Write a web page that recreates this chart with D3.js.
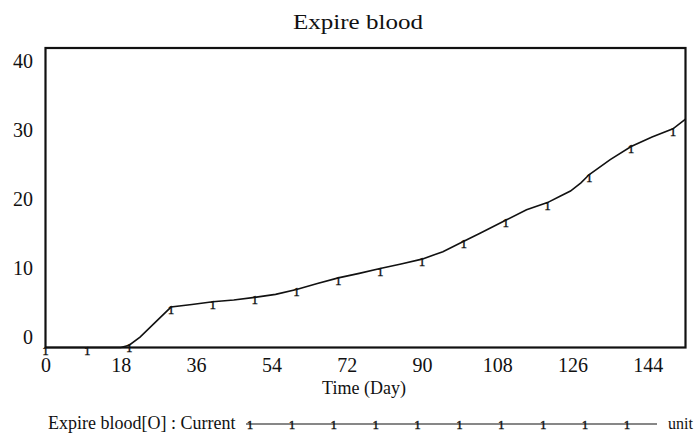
<!DOCTYPE html>
<html>
<head>
<meta charset="utf-8">
<script src="https://cdn.jsdelivr.net/npm/d3@7"></script>
<style>
  html, body { margin: 0; padding: 0; background: #fff; }
  svg { display: block; }
  text { font-family: "Liberation Serif", "DejaVu Serif", serif; fill: #111; }
</style>
</head>
<body>
<svg id="chart" width="694" height="440"></svg>
<script>
// ---- data ----
const chartTitle = "Expire blood";
const xTitle = "Time (Day)";
const seriesName = "Expire blood[O] : Current";
const unitLabel = "unit";
const markerLabel = "1";
const days = [0, 10, 18, 20, 22.6, 30, 35, 40, 45, 50, 55, 60, 65, 70, 75, 80, 85, 90, 95, 100, 104, 110, 115, 120, 123, 125.5, 128, 130, 132, 135, 140, 145, 150, 153];
const values = [0, 0, 0, 0.3, 1.4, 5.4, 5.75, 6.1, 6.35, 6.7, 7.1, 7.75, 8.55, 9.3, 9.9, 10.55, 11.15, 11.8, 12.8, 14.2, 15.3, 17.0, 18.4, 19.35, 20.2, 20.9, 22.0, 23.1, 23.9, 25.1, 26.85, 28.1, 29.2, 30.5];
const xTicks = [0, 18, 36, 54, 72, 90, 108, 126, 144];
const yTicks = [0, 10, 20, 30, 40];
const markerEvery = 10;
const legendMarkers = 10;

// ---- layout ----
const svg = d3.select("#chart");
const L = 45.5, R = 685.5, T = 48, B = 347.5;

const x = d3.scaleLinear().domain([0, 153]).range([L, R]);
const y = d3.scaleLinear().domain([0, 40]).range([B, T]);
// tick labels are spread inside the frame (as the reference does)
const yLab = d3.scaleLinear().domain([0, 40]).range([337, 61]);

// title
svg.append("text").attr("x", 358).attr("y", 29)
  .attr("text-anchor", "middle").attr("font-size", 22)
  .attr("textLength", 130).attr("lengthAdjust", "spacingAndGlyphs")
  .text(chartTitle);

// y labels
const yAxis = svg.append("g").attr("transform", `translate(33,0)`)
  .call(d3.axisLeft(yLab).tickValues(yTicks).tickSize(0).tickPadding(0));
yAxis.select(".domain").remove();
yAxis.selectAll("text").attr("font-size", 20).style("font-family", "Liberation Serif").attr("fill", "#111");

// x labels
const xAxis = svg.append("g").attr("transform", `translate(0,${B})`)
  .call(d3.axisBottom(x).tickValues(xTicks).tickSize(0).tickPadding(10));
xAxis.select(".domain").remove();
xAxis.selectAll("text").attr("font-size", 20).style("font-family", "Liberation Serif").attr("fill", "#111");

svg.append("text").attr("x", 364).attr("y", 394)
  .attr("text-anchor", "middle").attr("font-size", 18)
  .text(xTitle);

// frame
svg.append("rect").attr("x", L).attr("y", T).attr("width", R - L).attr("height", B - T)
  .attr("fill", "none").attr("stroke", "#111").attr("stroke-width", 2.2);

// line
const pts = days.map((d, i) => [d, values[i]]);
svg.append("path").datum(pts)
  .attr("fill", "none").attr("stroke", "#111").attr("stroke-width", 1.6)
  .attr("d", d3.line().x(d => x(d[0])).y(d => y(d[1])));

// markers
svg.selectAll("text.mk").data(pts.filter(p => p[0] % markerEvery === 0))
  .join("text").attr("class", "mk")
  .attr("x", d => x(d[0])).attr("y", d => y(d[1]) + 7)
  .attr("text-anchor", "middle").attr("font-size", 13)
  .attr("fill", "#111").attr("stroke", "#111").attr("stroke-width", 0.4)
  .text(markerLabel);

// legend
const ly = 424;
svg.append("text").attr("x", 48).attr("y", ly + 5).attr("font-size", 18).text(seriesName);
const lx0 = 246, lx1 = 657;
svg.append("line").attr("x1", lx0).attr("x2", lx1).attr("y1", ly).attr("y2", ly)
  .attr("stroke", "#111").attr("stroke-width", 1.2);
const lm = d3.scaleLinear().domain([0, legendMarkers - 1]).range([250, 627]);
svg.selectAll("text.lmk").data(d3.range(legendMarkers)).join("text").attr("class", "lmk")
  .attr("x", d => lm(d)).attr("y", ly + 5).attr("text-anchor", "middle").attr("font-size", 13)
  .attr("fill", "#111").attr("stroke", "#111").attr("stroke-width", 0.4)
  .text(markerLabel);
svg.append("text").attr("x", 668).attr("y", ly + 5).attr("font-size", 16).text(unitLabel);
</script>
</body>
</html>
